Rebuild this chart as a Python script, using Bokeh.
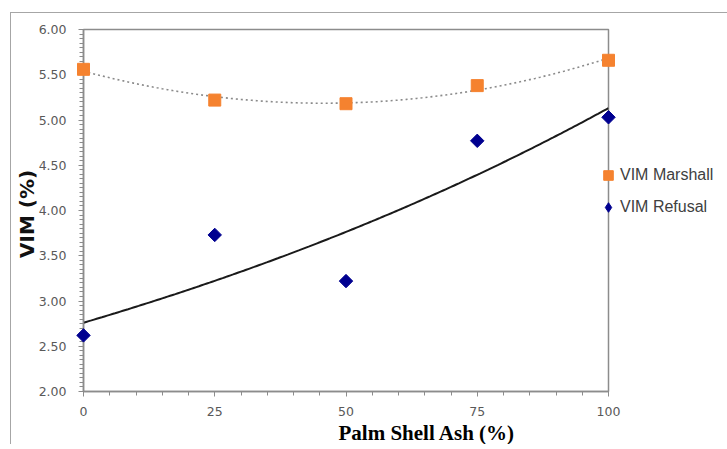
import numpy as np
from bokeh.plotting import figure
from bokeh.models import (Legend, LegendItem, Title, FixedTicker, Range1d,
                          NumeralTickFormatter, ColumnDataSource)
from bokeh.embed import file_html
from bokeh.resources import INLINE

# ---- data ----
ash_pct = [0, 25, 50, 75, 100]
vim_marshall = [5.56, 5.22, 5.18, 5.38, 5.66]
vim_refusal = [2.62, 3.73, 3.22, 4.77, 5.03]
x_ticks = [0, 25, 50, 75, 100]
y_ticks = [2.0, 2.5, 3.0, 3.5, 4.0, 4.5, 5.0, 5.5, 6.0]

# ---- trend lines (fits from the data) ----
xs = np.linspace(0, 100, 201)
pm = np.polyfit(ash_pct, vim_marshall, 2)
trend_m = np.polyval(pm, xs)
pr = np.polyfit(ash_pct, np.log(vim_refusal), 1)
trend_r = np.exp(np.polyval(pr, xs))

AX = "#8c8c8c"
NAVY = "#000090"
ORANGE = "#f5822f"
p = figure(frame_width=525, frame_height=362, output_backend="svg", toolbar_location=None,
           x_range=Range1d(0, 100), y_range=Range1d(2, 6),
           min_border_left=60, min_border_right=0, min_border_top=16, min_border_bottom=0,
           margin=(12, 0, 0, 10),
           styles={"border-top": "1px solid #a6a6a6", "border-left": "1px solid #a6a6a6"})
p.grid.visible = False
p.outline_line_color = AX
p.outline_line_width = 1.5

p.line(xs, trend_m, line_color="#8a8a8a", line_width=1.6, line_dash="2 3")
p.line(xs, trend_r, line_color="#1a1a1a", line_width=2)
rm = p.scatter(ash_pct, vim_marshall, marker="square", size=12, fill_color=ORANGE,
               line_color=ORANGE, level="overlay")
rr = p.scatter(ash_pct, vim_refusal, marker="square", angle=np.pi / 4, size=9.5,
               fill_color=NAVY, line_color=NAVY, level="overlay")
# legend-only glyph (a NaN placeholder, draws nothing) so the key shows a diamond
key_src = ColumnDataSource(data=dict(x=[np.nan], y=[np.nan]))
rr_key = p.scatter("x", "y", source=key_src, marker="diamond", size=14,
                   fill_color=NAVY, line_color=NAVY)

minor_x = [v for v in range(0, 101, 5)]
minor_y = [round(2 + 0.05 * i, 2) for i in range(81)]
p.xaxis.ticker = FixedTicker(ticks=x_ticks, minor_ticks=minor_x)
p.yaxis.ticker = FixedTicker(ticks=y_ticks, minor_ticks=minor_y)
p.yaxis.formatter = NumeralTickFormatter(format="0.00")

for ax in (p.xaxis[0], p.yaxis[0]):
    ax.axis_line_color = AX
    ax.axis_line_width = 1.5
    ax.major_tick_line_color = AX
    ax.minor_tick_line_color = AX
    ax.major_tick_in = 0
    ax.minor_tick_in = 0
    ax.major_tick_out = 5
    ax.minor_tick_out = 4
    ax.major_label_text_font = "DejaVu Sans"
    ax.major_label_text_font_size = "12.5px"
    ax.major_label_text_color = "#595959"
p.yaxis.major_label_standoff = 12
p.xaxis.major_label_standoff = 10

p.yaxis.axis_label = "VIM  (%)"
p.yaxis.axis_label_text_font = "DejaVu Sans"
p.yaxis.axis_label_text_font_style = "bold"
p.yaxis.axis_label_text_font_size = "20px"
p.yaxis.axis_label_text_color = "#111111"
p.yaxis.axis_label_standoff = -3

t = Title(text="Palm Shell Ash (%)", align="left", offset=255, standoff=0,
          text_font="Liberation Serif", text_font_style="bold", text_font_size="21px",
          text_color="#000000")
p.add_layout(t, "below")

legend = Legend(items=[LegendItem(label="VIM Marshall", renderers=[rm]),
                       LegendItem(label="VIM Refusal", renderers=[rr_key])],
                location=(-12, 172), orientation="vertical",
                glyph_width=24, glyph_height=24, label_height=24, spacing=8,
                label_standoff=-5, padding=0, margin=0,
                border_line_color=None, background_fill_alpha=0,
                label_text_font="Liberation Sans", label_text_font_size="16px",
                label_text_color="#404040")
p.add_layout(legend, "right")

open("out.html", "w").write(file_html(p, INLINE))
